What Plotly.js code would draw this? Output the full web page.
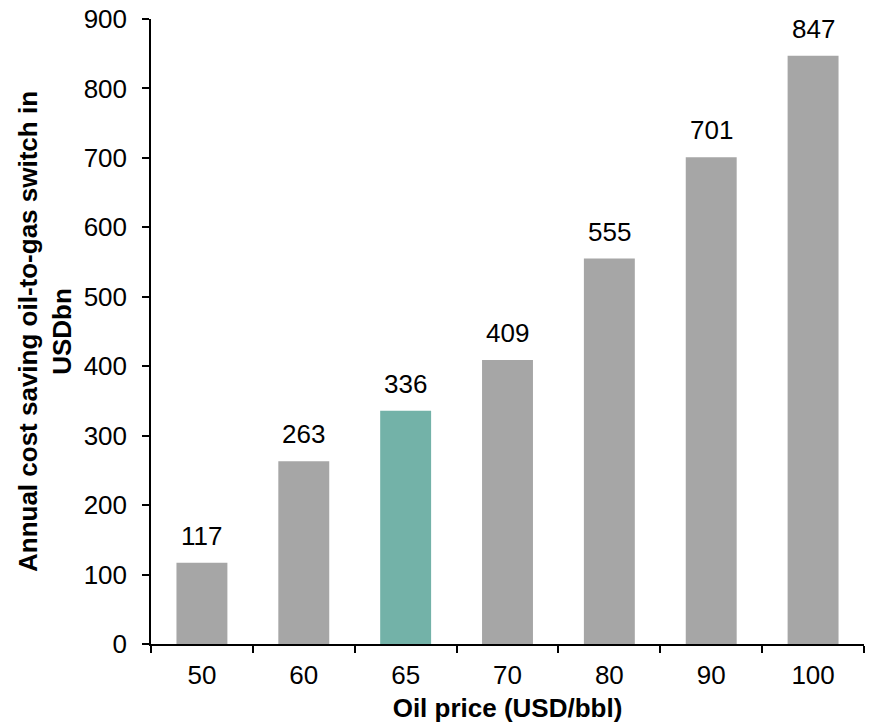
<!DOCTYPE html>
<html>
<head>
<meta charset="utf-8">
<script src="https://cdn.plot.ly/plotly-3.0.1.min.js"></script>
<style>html,body{margin:0;padding:0;background:#fff;}#chart{width:869px;height:728px;}</style>
</head>
<body>
<div id="chart"></div>
<script>
const categories = ["50", "60", "65", "70", "80", "90", "100"];
const savings = [117, 263, 336, 409, 555, 701, 847];
const barColors = ["#A6A6A6", "#A6A6A6", "#73B2A8", "#A6A6A6", "#A6A6A6", "#A6A6A6", "#A6A6A6"];
const yTicks = [0, 100, 200, 300, 400, 500, 600, 700, 800, 900];

const font = "Liberation Sans, Arial, sans-serif";
const labelAnnotations = categories.map((c, i) => ({
  x: i, y: savings[i], xref: "x", yref: "y",
  text: String(savings[i]), showarrow: false,
  yanchor: "bottom", yshift: 10,
  font: {family: font, size: 26, color: "#000"}
}));

Plotly.newPlot("chart", [{
  type: "bar",
  x: categories,
  y: savings,
  marker: {color: barColors},
  width: 0.5,
  hoverinfo: "x+y"
}], {
  width: 869, height: 728,
  margin: {l: 151, r: 5, t: 19, b: 84},
  paper_bgcolor: "#fff", plot_bgcolor: "#fff",
  showlegend: false,
  font: {family: font, color: "#000"},
  annotations: labelAnnotations,
  xaxis: {
    type: "category",
    range: [-0.5, categories.length - 0.5],
    tickangle: 0,
    showline: true, linecolor: "#000", linewidth: 1.5,
    ticks: "outside", tickson: "boundaries", ticklen: 7, tickcolor: "#000", tickwidth: 1.5,
    ticklabelstandoff: 7,
    tickfont: {family: font, size: 26, color: "#000"},
    showgrid: false,
    title: {text: "<b>Oil price (USD/bbl)</b>", font: {family: font, size: 26, color: "#000"}, standoff: 10}
  },
  yaxis: {
    range: [0, 900],
    tickvals: yTicks,
    showline: true, linecolor: "#000", linewidth: 1.5,
    ticks: "outside", ticklen: 7, tickcolor: "#000", tickwidth: 1.5,
    ticklabelstandoff: 10,
    tickfont: {family: font, size: 26, color: "#000"},
    showgrid: false, zeroline: false,
    title: {text: "<b>Annual cost saving oil-to-gas switch in<br>USDbn</b>", font: {family: font, size: 26, color: "#000"}, standoff: 5}
  }
}, {displayModeBar: false});
</script>
</body>
</html>
